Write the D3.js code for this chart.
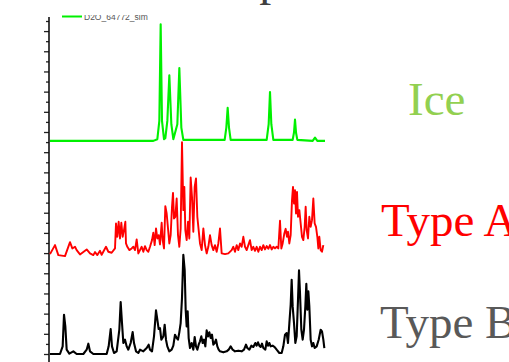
<!DOCTYPE html>
<html>
<head>
<meta charset="utf-8">
<script src="https://cdn.jsdelivr.net/npm/d3@7"></script>
<style>
  body { margin: 0; background: #fff; }
  svg { display: block; }
</style>
</head>
<body>
<div id="chart"></div>
<script>
// simulated ice pattern, [2theta, intensity above own baseline]
const ice = [
  [3.0, 0], [34.0, 0], [35.2, 5], [35.8, 60], [36.2, 350], [36.6, 60], [37.2, 5],
  [37.6, 8], [38.2, 60], [38.8, 197], [39.4, 50], [40.0, 5],
  [41.2, 50], [41.8, 219], [42.4, 40], [43.0, 3],
  [55.4, 3], [55.9, 40], [56.3, 99], [56.7, 40], [57.2, 3],
  [68.0, 3], [68.6, 50], [69.0, 147], [69.4, 50], [70.0, 3],
  [75.8, 3], [76.2, 25], [76.5, 64], [76.8, 25], [77.2, 3],
  [81.8, 0], [82.5, 10], [83.2, 0], [85.5, 0]
];

const typeA = [
  [3.0, 0], [4.5, 27], [5.5, -3], [7.5, -6], [9.0, 36], [9.7, 17], [10.5, 22], [11.0, 12],
  [12.0, -1], [14.0, 14], [15.0, 2], [16.0, -3], [16.5, 6], [17.2, -3], [18.0, 10], [18.5, -2],
  [19.8, 22], [20.5, 7], [21.5, 4], [22.5, 17], [22.8, 92], [23.2, 52], [23.6, 97], [24.0, 47],
  [24.4, 94], [24.8, 52], [25.2, 72], [25.6, 97], [25.8, 32], [26.2, 22], [26.8, 12], [27.5, 17],
  [28.0, 22], [28.5, 12], [29.0, 44], [29.5, 2], [30.0, 12], [30.5, 22], [31.0, 7], [31.5, 24],
  [32.0, 12], [32.5, 7], [33.0, 22], [33.6, 42], [34.0, 64], [34.4, 27], [34.8, 77], [35.2, 47],
  [35.6, 57], [36.0, 29], [36.5, 94], [36.8, 42], [37.2, 17], [37.6, 144], [38.0, 122], [38.4, 77],
  [38.8, 32], [39.2, 57], [39.6, 142], [39.9, 184], [40.2, 107], [40.6, 112], [41.0, 167], [41.4, 57],
  [41.8, 22], [42.2, 77], [42.6, 336], [43.0, 132], [43.3, 202], [43.6, 72], [44.0, 42], [44.4, 97],
  [44.8, 47], [45.2, 230], [45.6, 172], [46.0, 67], [46.4, 202], [46.8, 227], [47.2, 112], [47.6, 72],
  [48.0, 32], [48.5, 12], [49.0, 77], [49.5, 27], [50.0, 2], [50.5, 22], [51.0, 57], [51.5, 27],
  [52.0, 12], [52.5, 27], [53.0, 7], [53.5, 32], [54.0, 77], [54.5, 2], [55.5, 0], [56.5, 2],
  [57.5, 12], [58.0, 22], [58.5, 7], [59.0, 27], [59.5, 12], [60.0, 32], [60.5, 22], [61.0, 52],
  [61.5, 22], [62.0, 12], [62.5, 27], [63.0, 42], [63.5, 12], [64.0, 22], [64.5, 10], [65.0, 22],
  [65.5, 7], [66.0, 22], [66.5, 12], [67.0, 27], [67.5, 14], [68.0, 24], [68.5, 16], [69.0, 27],
  [69.5, 14], [70.0, 22], [70.5, 17], [71.0, 22], [71.5, 17], [72.0, 100], [72.4, 17], [72.8, 32],
  [73.3, 62], [73.7, 76], [74.1, 52], [74.4, 67], [74.8, 32], [75.2, 57], [75.6, 162], [75.9, 202],
  [76.2, 152], [76.5, 192], [76.8, 122], [77.1, 187], [77.4, 112], [77.8, 132], [78.2, 92], [78.6, 52],
  [79.0, 42], [79.4, 82], [79.7, 142], [80.0, 72], [80.4, 47], [80.8, 112], [81.2, 82], [81.6, 102],
  [82.0, 167], [82.4, 92], [82.8, 82], [83.2, 52], [83.5, 17], [83.8, 52], [84.2, 12], [84.6, 7],
  [85.0, 27]
];

const typeB = [
  [3.0, 0], [6.0, 0], [6.8, 23], [7.2, 118], [7.6, 83], [8.0, 13], [8.8, 1], [10.0, 8],
  [11.0, 0], [13.0, 0], [14.0, 13], [14.5, 31], [15.0, 8], [16.0, 0], [20.0, 0], [20.6, 23],
  [21.2, 75], [21.6, 23], [22.2, 3], [23.0, 8], [23.8, 73], [24.2, 156], [24.6, 93], [25.0, 33],
  [25.5, 43], [26.0, 23], [26.5, 13], [27.2, 33], [27.8, 66], [28.2, 33], [28.8, 8], [29.5, 3],
  [30.0, 13], [31.0, 8], [32.0, 18], [32.6, 28], [33.0, 13], [33.6, 8], [34.2, 53], [34.8, 131],
  [35.2, 103], [35.6, 75], [36.0, 78], [36.4, 43], [37.0, 53], [37.4, 88], [37.8, 43], [38.2, 23],
  [38.8, 8], [39.5, 13], [40.0, 25], [40.5, 58], [41.0, 48], [41.4, 43], [41.8, 65], [42.2, 93],
  [42.6, 168], [43.0, 298], [43.4, 253], [43.7, 133], [44.0, 83], [44.3, 128], [44.6, 48], [45.0, 18],
  [45.5, 33], [46.0, 13], [46.4, 51], [46.8, 23], [47.2, 13], [47.6, 28], [48.0, 38], [48.4, 53],
  [48.8, 33], [49.2, 43], [49.6, 23], [50.0, 71], [50.4, 53], [50.8, 65], [51.2, 48], [51.6, 58],
  [52.0, 28], [52.4, 33], [52.8, 43], [53.2, 23], [53.6, 13], [54.0, 8], [55.0, 5], [56.0, 8],
  [56.6, 13], [57.2, 23], [57.8, 13], [58.5, 8], [59.5, 10], [60.5, 8], [61.2, 13], [61.8, 28],
  [62.2, 18], [62.8, 13], [63.4, 25], [64.0, 21], [64.6, 33], [65.0, 25], [65.4, 35], [65.8, 25],
  [66.2, 21], [66.6, 31], [67.0, 18], [67.6, 13], [68.0, 38], [68.4, 25], [68.8, 33], [69.2, 23],
  [69.8, 25], [70.4, 21], [71.0, 13], [71.8, 3], [72.5, 3], [73.0, 23], [73.5, 58], [74.0, 63],
  [74.4, 33], [74.8, 91], [75.2, 148], [75.5, 223], [75.8, 143], [76.2, 93], [76.6, 33], [77.0, 53],
  [77.4, 163], [77.7, 251], [78.0, 183], [78.4, 73], [78.8, 43], [79.2, 73], [79.6, 143], [79.9, 211],
  [80.2, 133], [80.5, 188], [80.8, 143], [81.2, 43], [81.6, 23], [82.0, 33], [82.4, 18], [83.0, 23],
  [83.6, 43], [84.2, 73], [84.6, 68], [85.0, 43], [85.3, 18]
];

// vertical offsets of the stacked patterns
const offsets = {ice: 640, typeA: 300, typeB: 0};
const labels = ['Ice', 'Type A', 'Type B'];
const legendLabel = 'D2O_64772_sim';
const title = 'Comparison';

const width = 509, height = 362;

const svg = d3.select('#chart').append('svg')
  .attr('width', width)
  .attr('height', height);

svg.append('rect').attr('width', width).attr('height', height).attr('fill', '#fff');

const xScale = d3.scaleLinear().domain([0, 90]).range([40, 340]);
const yScale = d3.scaleLinear().domain([0, 1000]).range([354, 21]);

// y axis: ticks every 1/33 of the range, alternating long / short
const tickValues = d3.range(0, 34).map(i => i * 1000 / 33);
const yAxis = d3.axisLeft(yScale)
  .tickValues(tickValues)
  .tickSize(5)
  .tickSizeOuter(0)
  .tickFormat('');

const axisG = svg.append('g')
  .attr('transform', 'translate(49,0)')
  .call(yAxis);
axisG.select('.domain').remove();
axisG.selectAll('.tick line')
  .attr('stroke', '#222')
  .attr('stroke-width', 1.3)
  .attr('x2', (d, i) => i % 2 ? -3 : -5);
axisG.append('line')
  .attr('y1', yScale(1012))
  .attr('y2', yScale(-30))
  .attr('stroke', '#111')
  .attr('stroke-width', 1.6);

const line = offset => d3.line()
  .x(d => xScale(d[0]))
  .y(d => yScale(d[1] + offset));

svg.append('path')
  .datum(typeB)
  .attr('fill', 'none')
  .attr('stroke', '#000')
  .attr('stroke-width', 2.1)
  .attr('stroke-linejoin', 'round')
  .attr('d', line(offsets.typeB));

svg.append('path')
  .datum(typeA)
  .attr('fill', 'none')
  .attr('stroke', '#ff0000')
  .attr('stroke-width', 1.9)
  .attr('stroke-linejoin', 'round')
  .attr('d', line(offsets.typeA));

svg.append('path')
  .datum(ice)
  .attr('fill', 'none')
  .attr('stroke', '#00f000')
  .attr('stroke-width', 2.1)
  .attr('stroke-linejoin', 'round')
  .attr('d', line(offsets.ice));

// legend, cut off at the top like the picture
svg.append('clipPath').attr('id', 'legendClip')
  .append('rect').attr('x', 50).attr('y', 15).attr('width', 200).attr('height', 20);

const legend = svg.append('g').attr('clip-path', 'url(#legendClip)');
legend.append('line')
  .attr('x1', 62).attr('x2', 82)
  .attr('y1', 16.5).attr('y2', 16.5)
  .attr('stroke', '#00f000')
  .attr('stroke-width', 2);
legend.append('text')
  .attr('x', 84)
  .attr('y', 20)
  .attr('font-family', 'Liberation Sans, Arial, sans-serif')
  .attr('font-size', 8.5)
  .attr('fill', '#555')
  .text(legendLabel);

// slide title, mostly outside the picture
svg.append('text')
  .attr('x', 166)
  .attr('y', -5)
  .attr('font-family', 'Liberation Serif, Times New Roman, serif')
  .attr('font-size', 48)
  .attr('fill', '#404040')
  .text(title);

const labelColors = ['#92d050', '#ff0000', '#595959'];
const labelX = [408, 381, 380];
const labelY = [115, 236, 338];
svg.selectAll('.series-label')
  .data(labels)
  .enter().append('text')
  .attr('class', 'series-label')
  .attr('x', (d, i) => labelX[i])
  .attr('y', (d, i) => labelY[i])
  .attr('font-family', 'Liberation Serif, Times New Roman, serif')
  .attr('font-size', 47)
  .attr('fill', (d, i) => labelColors[i])
  .text(d => d);
</script>
</body>
</html>
